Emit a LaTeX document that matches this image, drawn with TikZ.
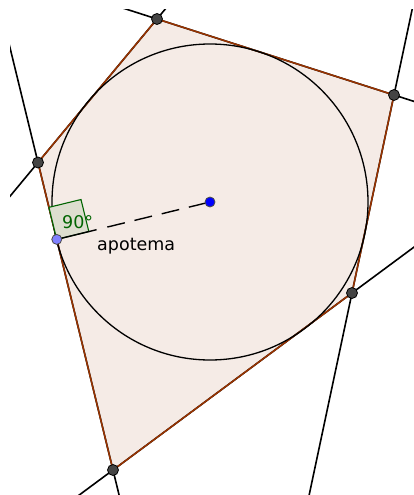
\documentclass[tikz,border=0pt]{standalone}
\usepackage{fontspec}
\setmainfont{DejaVu Sans}
\usetikzlibrary{calc}
\definecolor{polyfill}{RGB}{245,235,230}
\definecolor{polyedge}{RGB}{153,51,0}
\definecolor{anglegreen}{RGB}{0,100,0}
\definecolor{anglefill}{RGB}{221,222,207}
\definecolor{ptgray}{RGB}{68,68,68}
\definecolor{ptblue}{RGB}{0,0,255}
\definecolor{ptlight}{RGB}{128,128,255}
\tikzset{
  extline/.style={black, line width=1.6pt, shorten <=-400pt, shorten >=-400pt},
  edge/.style={polyedge, line width=1.5pt, line join=round},
  pt/.style={circle, draw=black, line width=0.8pt, fill=ptgray, inner sep=0pt, minimum size=11pt},
  ptb/.style={circle, draw=black!70, line width=0.8pt, fill=ptblue, inner sep=0pt, minimum size=10pt},
  ptl/.style={circle, draw=black!70, line width=0.8pt, fill=ptlight, inner sep=0pt, minimum size=10pt},
  lbl/.style={font=\fontsize{17.5}{20}\selectfont, inner sep=0pt}
}
\begin{document}
\begin{tikzpicture}[x=1pt,y=-1pt]
\useasboundingbox (0,0) rectangle (414,495);
\coordinate (A) at (157,19);
\coordinate (B) at (394,95);
\coordinate (C) at (352,293);
\coordinate (D) at (113,470);
\coordinate (E) at (38,162.5);
\coordinate (O) at (210,202);
\coordinate (F) at ($(D)!(O)!(E)$);
% polygon fill
\fill[polyfill] (A) -- (B) -- (C) -- (D) -- (E) -- cycle;
% extended side lines
\begin{scope}
\clip (10,10) rectangle (414,495);
\draw[extline] (A) -- (B);
\draw[extline] (B) -- (C);
\draw[extline] (C) -- (D);
\draw[extline] (D) -- (E);
\draw[extline] (E) -- (A);
\end{scope}
% polygon edges
\draw[edge] (A) -- (B) -- (C) -- (D) -- (E) -- cycle;
% incircle
\draw[black, line width=1.3pt] (O) circle[radius=158];
% right angle marker
\coordinate (U) at ($(F)!33pt!(O)$);
\coordinate (V) at ($(F)!33pt!(E)$);
\coordinate (W) at ($(U)+(V)-(F)$);
\filldraw[draw=anglegreen, fill=anglefill, line width=1.1pt] (F) -- (U) -- (W) -- (V) -- cycle;
% apothem
\draw[black, line width=1.4pt, dash pattern=on 41pt off 11pt on 18pt off 10pt on 18pt off 10pt on 18pt off 10pt] (F) -- (O);
% labels
\node[lbl, text=anglegreen, anchor=base west] (l90) at (62,228) {90°};
\node[lbl, anchor=base west] (lap) at (97,250) {apotema};
% points
\node[pt] (pA) at (A) {};
\node[pt] (pB) at (B) {};
\node[pt] (pC) at (C) {};
\node[pt] (pD) at (D) {};
\node[pt] (pE) at (E) {};
\node[ptb] (pO) at (O) {};
\node[ptl] (pF) at (F) {};
\end{tikzpicture}
\end{document}
